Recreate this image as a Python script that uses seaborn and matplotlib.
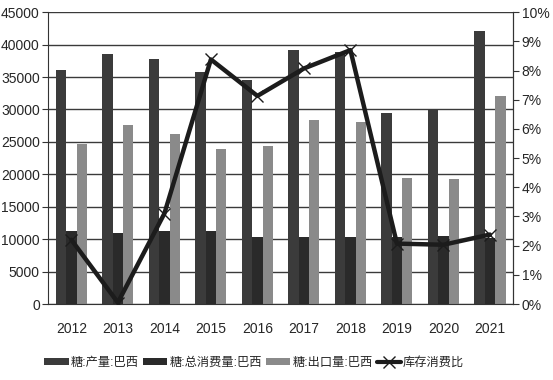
import numpy as np
import pandas as pd
import matplotlib
matplotlib.use("Agg")
import matplotlib.pyplot as plt
import seaborn as sns
from matplotlib.patches import Patch
from matplotlib.lines import Line2D
from matplotlib.ticker import MultipleLocator, FuncFormatter

# --- Data ---
years = [2012, 2013, 2014, 2015, 2016, 2017, 2018, 2019, 2020, 2021]
production = [36100, 38600, 37800, 35800, 34500, 39100, 38900, 29400, 29900, 42100]
consumption = [11300, 11000, 11200, 11300, 10400, 10400, 10400, 10400, 10500, 10100]
exports = [24600, 27600, 26200, 23900, 24300, 28400, 28100, 19500, 19200, 32000]
stock_ratio = [2.2, 0.05, 3.1, 8.38, 7.13, 8.07, 8.70, 2.07, 2.03, 2.38]

series_names = ["糖:产量:巴西", "糖:总消费量:巴西", "糖:出口量:巴西"]
line_name = "库存消费比"
colors = ["#3b3b3b", "#2a2a2a", "#8a8a8a"]

# --- Style ---
sns.set_style("white")
plt.rcParams['font.family'] = ['Liberation Sans Narrow', 'Liberation Sans', 'Noto Sans CJK SC', 'DejaVu Sans']
plt.rcParams['font.size'] = 10

df = pd.DataFrame({
    "year": years * 3,
    "value": production + consumption + exports,
    "series": [series_names[0]] * 10 + [series_names[1]] * 10 + [series_names[2]] * 10,
})

fig = plt.figure(figsize=(5.53, 3.8), dpi=100)
ax = fig.add_axes([0.087, 0.2, 0.841, 0.768])

sns.barplot(data=df, x="year", y="value", hue="series", hue_order=series_names,
            palette=colors, native_scale=True, width=0.67, saturation=1,
            edgecolor="none", linewidth=0, ax=ax, legend=False)

ax.set_ylim(0, 45000)
ax.set_xlim(2011.5, 2021.5)
ax.yaxis.set_major_locator(MultipleLocator(5000))
ax.grid(axis="y", color="#3a3a3a", linewidth=1)
ax.set_axisbelow(True)
ax.set_xlabel("")
ax.set_ylabel("")
ax.set_xticks(years)
ax.set_xticklabels([str(y) for y in years])
ax.set_xticks([y - 0.5 for y in years] + [2021.5], minor=True)
ax.tick_params(axis="x", which="major", length=0, pad=13)
ax.tick_params(axis="x", which="minor", length=4, direction="out", color="#333333")
ax.tick_params(axis="y", length=4, direction="out", color="#333333", left=True, pad=2)
for s in ["left", "bottom", "right"]:
    ax.spines[s].set_color("#333333")
ax.spines["top"].set_visible(False)

ax2 = ax.twinx()
sns.lineplot(x=years, y=stock_ratio, ax=ax2, color="#1c1c1c", linewidth=3.2,
             marker="x", markersize=8, markeredgewidth=1.0, markeredgecolor="#1c1c1c")
ax2.set_ylim(0, 10)
ax2.yaxis.set_major_locator(MultipleLocator(1))
ax2.yaxis.set_major_formatter(FuncFormatter(lambda v, p: f"{int(round(v))}%"))
ax2.tick_params(axis="y", length=4, direction="out", color="#333333", right=True, pad=2)
ax2.set_ylabel("")
for s in ["top", "left", "bottom"]:
    ax2.spines[s].set_visible(False)
ax2.spines["right"].set_color("#333333")

handles = [Patch(facecolor=c, edgecolor="none") for c in colors]
handles.append(Line2D([], [], color="#1c1c1c", linewidth=3, marker="x",
                      markersize=8, markeredgewidth=1.0))
fig.legend(handles, series_names + [line_name], loc="center", bbox_to_anchor=(0.46, 0.045),
           ncol=4, frameon=False, handlelength=2.0, handleheight=0.6,
           handletextpad=0.15, columnspacing=0.35, fontsize=8.8)

fig.savefig("out.png", dpi=100)
